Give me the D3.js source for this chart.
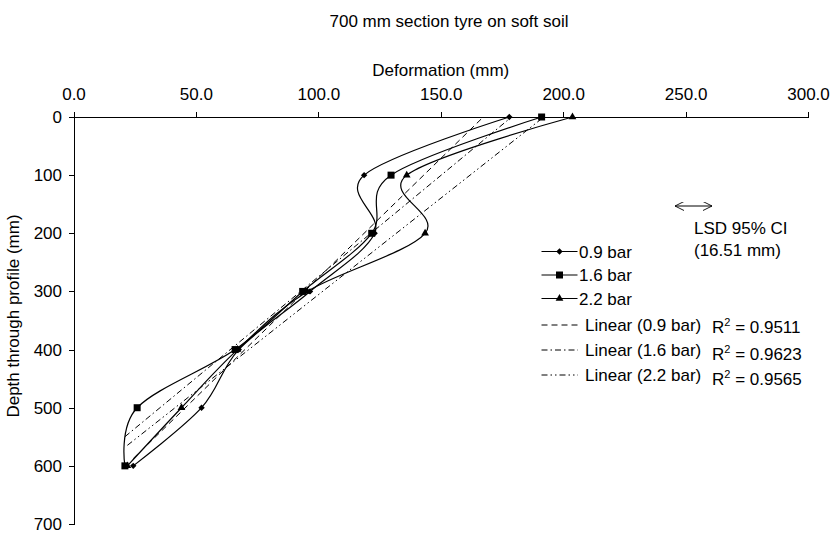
<!DOCTYPE html>
<html>
<head>
<meta charset="utf-8">
<script src="https://cdn.jsdelivr.net/npm/d3@7"></script>
<style>
    body { margin: 0; background: #fff; }
    text { font-family: Arial, "Liberation Sans", sans-serif; font-size: 17px; fill: #000; }
</style>
</head>
<body>
<div id="chart"></div>
<script>
// depths (mm) measured through the profile
const depths = [0, 100, 200, 300, 400, 500, 600];

// deformation (mm) per tyre pressure
const bar09 = [178, 118.7, 123, 96.6, 67.5, 52.3, 24.4];
const bar16 = [191.2, 129.7, 121.8, 93.6, 66, 26, 21];
const bar22 = [203.8, 136.1, 143.6, 95.5, 67, 44.1, 22];

const seriesNames = ["0.9 bar", "1.6 bar", "2.2 bar"];
const trendNames = ["Linear (0.9 bar)", "Linear (1.6 bar)", "Linear (2.2 bar)"];
const r2Labels = ["0.9511", "0.9623", "0.9565"];

const xTicks = [0, 50, 100, 150, 200, 250, 300];
const yTicks = [0, 100, 200, 300, 400, 500, 600, 700];

let margin = {top: 117, right: 26, bottom: 9, left: 73.5};
let width = 834 - margin.left - margin.right;
let height = 533 - margin.top - margin.bottom;

let svg = d3.select("#chart").append("svg")
    .attr("width", 834)
    .attr("height", 533);

let g = svg.append("g")
    .attr("transform", "translate(" + margin.left + "," + margin.top + ")");

let x = d3.scaleLinear().domain([0, 300]).range([0, width]);
let y = d3.scaleLinear().domain([0, 700]).range([0, height]);

// titles
svg.append("text")
    .attr("x", 449).attr("y", 27)
    .attr("text-anchor", "middle")
    .text("700 mm section tyre on soft soil");

svg.append("text")
    .attr("x", margin.left + width / 2).attr("y", 76)
    .attr("text-anchor", "middle")
    .text("Deformation (mm)");

svg.append("text")
    .attr("transform", `translate(19, 316) rotate(-90)`)
    .attr("text-anchor", "middle")
    .text("Depth through profile (mm)");

// axes
let xAxis = g.append("g")
    .call(d3.axisTop(x).tickValues(xTicks).tickFormat(d3.format(".1f"))
        .tickSize(5).tickSizeOuter(0).tickPadding(12));

let yAxis = g.append("g")
    .call(d3.axisLeft(y).tickValues(yTicks).tickSize(5).tickSizeOuter(0).tickPadding(6.5));

[xAxis, yAxis].forEach(a => {
    a.selectAll("path, line").attr("stroke", "#000").attr("shape-rendering", "crispEdges");
    a.selectAll("text").style("font-size", "17px").style("font-family", "Arial, 'Liberation Sans', sans-serif").attr("fill", "#000");
});

g.append("clipPath").attr("id", "plotClip")
    .append("rect").attr("width", width).attr("height", height);

let all = [bar09, bar16, bar22];
let dashes = ["6,4", "6,3,1.5,3", "6,3,1.5,3,1.5,3"];

// linear trend lines (depth on deformation)
all.forEach((vals, i) => {
    let mx = d3.mean(vals), my = d3.mean(depths);
    let sxy = d3.sum(vals, (v, k) => (v - mx) * (depths[k] - my));
    let sxx = d3.sum(vals, v => (v - mx) * (v - mx));
    let b = sxy / sxx, a = my - b * mx;
    let ext = d3.extent(vals);
    g.append("line")
        .attr("clip-path", "url(#plotClip)")
        .attr("x1", x(ext[0])).attr("y1", y(a + b * ext[0]))
        .attr("x2", x(ext[1])).attr("y2", y(a + b * ext[1]))
        .attr("stroke", "#000")
        .attr("stroke-width", 1)
        .attr("stroke-dasharray", dashes[i]);
});

// smoothed series lines
let line = d3.line()
    .x(d => x(d[0]))
    .y(d => y(d[1]))
    .curve(d3.curveCatmullRom.alpha(0));

all.forEach(vals => {
    g.append("path")
        .datum(vals.map((v, k) => [v, depths[k]]))
        .attr("d", line)
        .attr("fill", "none")
        .attr("stroke", "#000")
        .attr("stroke-width", 1.2);
});

let symbols = [
    d3.symbol().type(d3.symbolDiamond2).size(26),
    d3.symbol().type(d3.symbolSquare).size(49),
    d3.symbol().type(d3.symbolTriangle).size(26)
];

all.forEach((vals, i) => {
    g.selectAll(".pt" + i)
        .data(vals.map((v, k) => [v, depths[k]]))
        .enter().append("path")
        .attr("class", "pt" + i)
        .attr("d", symbols[i])
        .attr("transform", d => `translate(${x(d[0])},${y(d[1])})`)
        .attr("fill", "#000");
});

// legend
let legRows = [251.5, 275, 298.5, 325, 350, 375];
let legend = svg.append("g");
seriesNames.forEach((n, i) => {
    let yy = legRows[i];
    legend.append("line").attr("x1", 541.5).attr("x2", 577.5).attr("y1", yy).attr("y2", yy)
        .attr("stroke", "#000").attr("stroke-width", 1.2);
    legend.append("path").attr("d", symbols[i]).attr("transform", `translate(559.5,${yy})`).attr("fill", "#000");
    legend.append("text").attr("x", 579).attr("y", yy + 6).text(n);
});
trendNames.forEach((n, i) => {
    let yy = legRows[i + 3];
    legend.append("line").attr("x1", 541.5).attr("x2", 578).attr("y1", yy).attr("y2", yy)
        .attr("stroke", "#000").attr("stroke-dasharray", dashes[i]);
    legend.append("text").attr("x", 585).attr("y", yy + 6).text(n);
    let r = legend.append("text").attr("x", 712).attr("y", yy + 8 + (i > 0 ? 2 : 0));
    r.append("tspan").text("R");
    r.append("tspan").attr("dy", -7).style("font-size", "11px").text("2");
    r.append("tspan").attr("dy", 7).text(" = " + r2Labels[i]);
});

// LSD annotation (drawn arrow)
let defs = svg.append("defs");
defs.append("marker").attr("id", "arr")
    .attr("viewBox", "0 0 10 10").attr("refX", 10).attr("refY", 5)
    .attr("markerWidth", 9).attr("markerHeight", 9).attr("orient", "auto-start-reverse")
    .attr("markerUnits", "userSpaceOnUse")
    .append("path").attr("d", "M0,0 L10,5 L0,10").attr("fill", "none").attr("stroke", "#000").attr("stroke-width", 1);

svg.append("line")
    .attr("x1", 675).attr("x2", 712)
    .attr("y1", 206).attr("y2", 206)
    .attr("stroke", "#000").attr("stroke-width", 1)
    .attr("marker-start", "url(#arr)").attr("marker-end", "url(#arr)");

svg.append("text").attr("x", 694).attr("y", 234).text("LSD 95% CI");
svg.append("text").attr("x", 694).attr("y", 256).text("(16.51 mm)");
</script>
</body>
</html>
